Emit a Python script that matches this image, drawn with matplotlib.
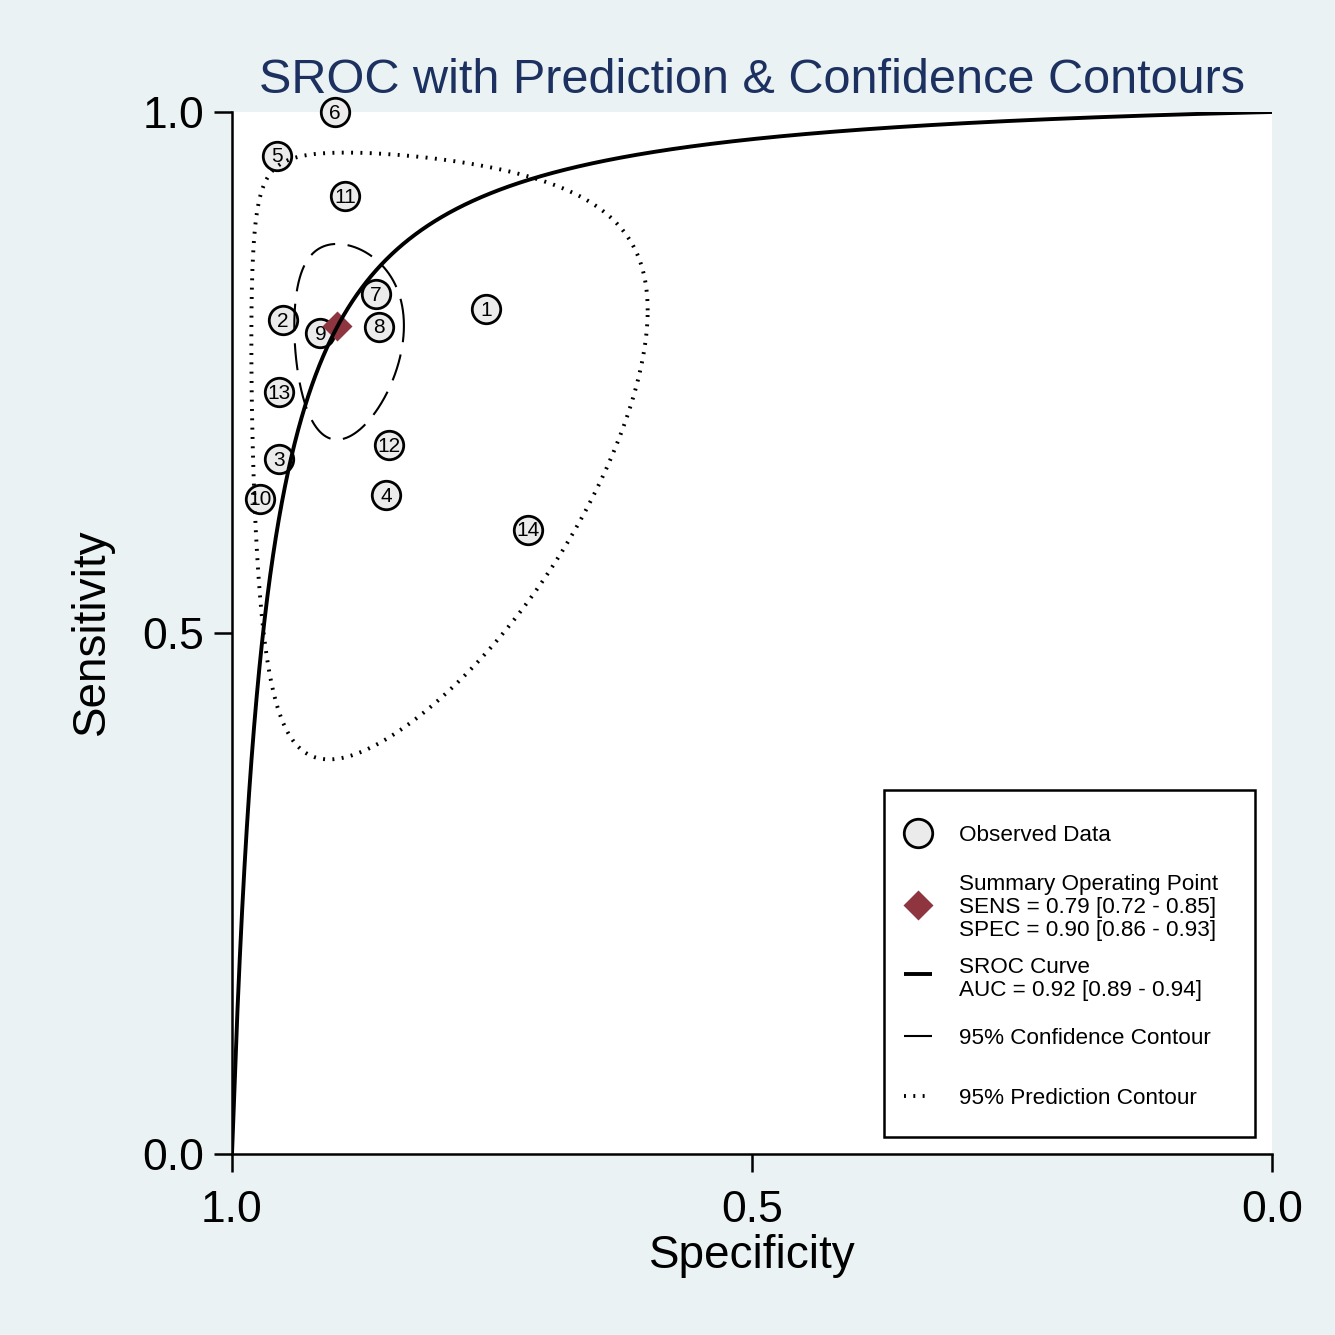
import numpy as np
import matplotlib
matplotlib.use("Agg")
import matplotlib.pyplot as plt
from matplotlib.patches import Rectangle
from matplotlib.lines import Line2D

plt.rcParams['font.family'] = ['Liberation Sans', 'DejaVu Sans']

# ---------------- data ----------------
study_ids = [1, 2, 3, 4, 5, 6, 7, 8, 9, 10, 11, 12, 13, 14]
spec = [0.756, 0.951, 0.955, 0.852, 0.957, 0.901, 0.862, 0.859, 0.915, 0.973, 0.891, 0.849, 0.955, 0.715]
sens = [0.811, 0.800, 0.667, 0.632, 0.958, 1.000, 0.825, 0.794, 0.788, 0.629, 0.919, 0.680, 0.731, 0.599]

summary_sens = 0.795
summary_spec = 0.899

# SROC: logit(sens) = alpha + beta * logit(1 - spec)
sroc_alpha = 3.62
sroc_beta = 1.04

# contour parameters in logit space (SD of logit FPR, SD of logit sens, correlation)
conf_sd_fpr, conf_sd_sens, conf_rho = 0.2316, 0.2353, 0.0
pred_sd_fpr, pred_sd_sens, pred_rho = 0.727, 0.756, 0.05
chi2_95_2df = 5.991

title_text = "SROC with Prediction & Confidence Contours"
x_label = "Specificity"
y_label = "Sensitivity"
x_ticks = [1.0, 0.5, 0.0]
x_tick_labels = ["1.0", "0.5", "0.0"]
y_ticks = [0.0, 0.5, 1.0]
y_tick_labels = ["0.0", "0.5", "1.0"]
legend_observed = "Observed Data"
legend_summary = ["Summary Operating Point",
                  "SENS = 0.79 [0.72 - 0.85]",
                  "SPEC = 0.90 [0.86 - 0.93]"]
legend_sroc = ["SROC Curve", "AUC = 0.92 [0.89 - 0.94]"]
legend_conf = "95% Confidence Contour"
legend_pred = "95% Prediction Contour"

# ---------------- style ----------------
BG = "#EAF2F3"
TITLE_C = "#1C3160"
MAROON = "#8E3540"
MFC = "#EBEBEB"
DOT = (0.5, 1.9)
DASH = (13.0, 6.0)

W = H = 1335
fig = plt.figure(figsize=(W / 100, H / 100), dpi=100, facecolor=BG)


def fx(px):
    return px / W


def fy(py):
    return 1 - py / H


ax = fig.add_axes([fx(232), fy(1154), 1040 / W, 1042 / H])
ax.set_facecolor("white")
ax.set_xlim(1, 0)
ax.set_ylim(0, 1)


def logit(p):
    p = np.asarray(p, dtype=float)
    return np.log(p / (1 - p))


def expit(z):
    return 1 / (1 + np.exp(-z))


# observed data
ax.plot(spec, sens, 'o', ms=20.5, mfc=MFC, mec='black', mew=2.0,
        clip_on=False, zorder=3, linestyle='none')
for sid, sp, se in zip(study_ids, spec, sens):
    ax.annotate(str(sid), (sp, se), xytext=(0, -0.8), textcoords='offset points',
                ha='center', va='center', fontsize=15, zorder=4,
                annotation_clip=False)

# summary point
ax.plot([summary_spec], [summary_sens], 'D', ms=15.3, color=MAROON,
        mec='none', zorder=5, clip_on=False)

# SROC curve
fpr_grid = np.linspace(1e-6, 1 - 1e-9, 4000)
sroc_sens = expit(sroc_alpha + sroc_beta * logit(fpr_grid))
ax.plot(1 - fpr_grid, sroc_sens, color='black', lw=2.8, zorder=6,
        solid_capstyle='butt')


def contour(sd_u, sd_v, rho):
    c = np.sqrt(chi2_95_2df)
    t = np.linspace(0, 2 * np.pi, 720)
    u0 = logit(1 - summary_spec)
    v0 = logit(summary_sens)
    u = u0 + c * sd_u * np.cos(t)
    v = v0 + c * sd_v * (rho * np.cos(t) + np.sqrt(1 - rho ** 2) * np.sin(t))
    return 1 - expit(u), expit(v)


cx, cy = contour(conf_sd_fpr, conf_sd_sens, conf_rho)
ax.plot(cx, cy, color='black', lw=1.5, dashes=DASH, zorder=6)
px_, py_ = contour(pred_sd_fpr, pred_sd_sens, pred_rho)
ax.plot(px_, py_, color='black', lw=2.8, dashes=DOT, zorder=6,
        dash_capstyle='butt')

# axes styling
for s in ['top', 'right']:
    ax.spines[s].set_visible(False)
for s in ['left', 'bottom']:
    ax.spines[s].set_linewidth(1.8)
ax.set_xticks(x_ticks)
ax.set_xticklabels(x_tick_labels)
ax.set_yticks(y_ticks)
ax.set_yticklabels(y_tick_labels)
ax.tick_params(axis='both', length=13, width=1.8, labelsize=32, direction='out')
ax.tick_params(axis='x', pad=13)
ax.tick_params(axis='y', pad=7)

fig.text(fx(752), fy(93), title_text, ha='center', va='baseline',
         fontsize=35, color=TITLE_C)
fig.text(fx(752), fy(1268), x_label, ha='center', va='baseline', fontsize=33)
fig.text(fx(92), fy(632), y_label, ha='center', va='center',
         fontsize=33, rotation=90)

# legend (drawn in figure pixel layout)
fig.add_artist(Rectangle((fx(884), fy(1137)), (1255 - 884) / W, (1137 - 790) / H,
                         transform=fig.transFigure, facecolor='white',
                         edgecolor='black', lw=1.8, zorder=10))
LFS = 16.2
tx = fx(959)


def ltext(s, ycenter):
    fig.text(tx, fy(ycenter + 8), s, ha='left', va='baseline', fontsize=LFS, zorder=11)


ltext(legend_observed, 833)
for s, yc in zip(legend_summary, [882, 905, 928]):
    ltext(s, yc)
for s, yc in zip(legend_sroc, [965, 988]):
    ltext(s, yc)
ltext(legend_conf, 1036)
ltext(legend_pred, 1096)

fig.add_artist(Line2D([fx(918)], [fy(833)], marker='o', ms=20.5, mfc=MFC,
                      mec='black', mew=2.0, transform=fig.transFigure, zorder=11))
fig.add_artist(Line2D([fx(918)], [fy(905)], marker='D', ms=15.3, color=MAROON,
                      mec='none', transform=fig.transFigure, zorder=11))
fig.add_artist(Line2D([fx(904), fx(932)], [fy(974), fy(974)], color='black', lw=2.8,
                      solid_capstyle='butt', transform=fig.transFigure, zorder=11))
fig.add_artist(Line2D([fx(904), fx(932)], [fy(1036), fy(1036)], color='black', lw=1.5,
                      solid_capstyle='butt', transform=fig.transFigure, zorder=11))
fig.add_artist(Line2D([fx(904), fx(932)], [fy(1096), fy(1096)], color='black', lw=2.8,
                      dashes=DOT, dash_capstyle='butt',
                      transform=fig.transFigure, zorder=11))

fig.savefig("out.png", dpi=100, facecolor=BG)
